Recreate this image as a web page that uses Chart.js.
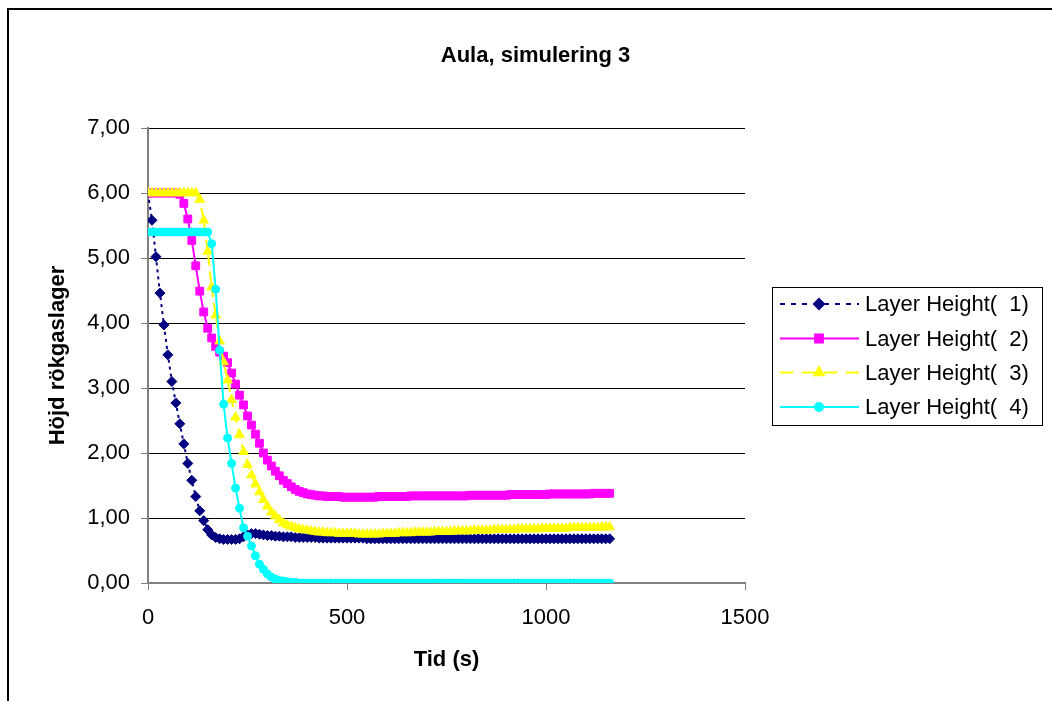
<!DOCTYPE html>
<html>
<head>
<meta charset="utf-8">
<script src="https://cdn.jsdelivr.net/npm/chart.js@4.4.1/dist/chart.umd.min.js"></script>
<style>
  body { margin: 0; background: #fff; }
  #wrap { position: relative; width: 1052px; height: 701px; overflow: hidden; }
  #frame { position: absolute; left: 7px; top: 8px; width: 1100px; height: 800px;
           border-top: 2px solid #000; border-left: 2px solid #000; }
  canvas { position: absolute; left: 0; top: 0; }
</style>
</head>
<body>
<div id="wrap">
  <div id="frame"></div>
  <canvas id="grafik" width="1052" height="701"></canvas>
</div>
<script>
// Tid (s), ett värde var 10:e sekund
const tider = [
  0, 10, 20, 30, 40, 50, 60, 70, 80, 90,
  100, 110, 120, 130, 140, 150, 160, 170, 180, 190,
  200, 210, 220, 230, 240, 250, 260, 270, 280, 290,
  300, 310, 320, 330, 340, 350, 360, 370, 380, 390,
  400, 410, 420, 430, 440, 450, 460, 470, 480, 490,
  500, 510, 520, 530, 540, 550, 560, 570, 580, 590,
  600, 610, 620, 630, 640, 650, 660, 670, 680, 690,
  700, 710, 720, 730, 740, 750, 760, 770, 780, 790,
  800, 810, 820, 830, 840, 850, 860, 870, 880, 890,
  900, 910, 920, 930, 940, 950, 960, 970, 980, 990,
  1000, 1010, 1020, 1030, 1040, 1050, 1060, 1070, 1080, 1090,
  1100, 1110, 1120, 1130, 1140, 1150, 1160
];

// Layer Height( 1)
const lager1 = [
  6.00, 5.58, 5.02, 4.46, 3.97, 3.51, 3.10, 2.77, 2.45, 2.14,
  1.84, 1.58, 1.33, 1.11, 0.96, 0.82, 0.74, 0.70, 0.68, 0.67,
  0.67, 0.67, 0.67, 0.68, 0.71, 0.74, 0.76, 0.76, 0.75, 0.74,
  0.73, 0.73, 0.72, 0.72, 0.71, 0.71, 0.71, 0.70, 0.70, 0.70,
  0.70, 0.70, 0.70, 0.69, 0.69, 0.69, 0.69, 0.69, 0.69, 0.69,
  0.69, 0.69, 0.69, 0.69, 0.69, 0.68, 0.68, 0.68, 0.68, 0.68,
  0.68, 0.68, 0.68, 0.68, 0.68, 0.68, 0.68, 0.68, 0.68, 0.68,
  0.68, 0.68, 0.68, 0.68, 0.68, 0.68, 0.68, 0.68, 0.68, 0.68,
  0.68, 0.68, 0.68, 0.68, 0.68, 0.68, 0.68, 0.68, 0.68, 0.68,
  0.68, 0.68, 0.68, 0.68, 0.68, 0.68, 0.68, 0.68, 0.68, 0.68,
  0.68, 0.68, 0.68, 0.68, 0.68, 0.68, 0.68, 0.68, 0.68, 0.68,
  0.68, 0.68, 0.68, 0.68, 0.68, 0.68, 0.68
];

// Layer Height( 2)
const lager2 = [
  6.00, 6.00, 6.00, 6.00, 6.00, 6.00, 6.00, 6.00, 5.98, 5.84,
  5.60, 5.27, 4.88, 4.49, 4.17, 3.92, 3.77, 3.64, 3.55, 3.49,
  3.39, 3.23, 3.06, 2.89, 2.74, 2.57, 2.43, 2.29, 2.15, 2.00,
  1.89, 1.80, 1.72, 1.65, 1.58, 1.53, 1.48, 1.44, 1.41, 1.39,
  1.37, 1.36, 1.35, 1.34, 1.34, 1.33, 1.33, 1.33, 1.33, 1.32,
  1.32, 1.32, 1.32, 1.32, 1.32, 1.32, 1.32, 1.32, 1.33, 1.33,
  1.33, 1.33, 1.33, 1.33, 1.33, 1.33, 1.34, 1.34, 1.34, 1.34,
  1.34, 1.34, 1.34, 1.34, 1.34, 1.34, 1.34, 1.34, 1.34, 1.34,
  1.34, 1.35, 1.35, 1.35, 1.35, 1.35, 1.35, 1.35, 1.35, 1.35,
  1.35, 1.36, 1.36, 1.36, 1.36, 1.36, 1.36, 1.36, 1.36, 1.36,
  1.36, 1.37, 1.37, 1.37, 1.37, 1.37, 1.37, 1.37, 1.37, 1.37,
  1.37, 1.37, 1.38, 1.38, 1.38, 1.38, 1.38
];

// Layer Height( 3)
const lager3 = [
  6.00, 6.00, 6.00, 6.00, 6.00, 6.00, 6.00, 6.00, 6.00, 6.00,
  6.00, 6.00, 6.00, 5.90, 5.58, 5.10, 4.55, 4.12, 3.72, 3.40,
  3.12, 2.82, 2.55, 2.28, 2.02, 1.82, 1.66, 1.52, 1.40, 1.28,
  1.18, 1.09, 1.03, 0.97, 0.92, 0.89, 0.87, 0.85, 0.83, 0.82,
  0.81, 0.80, 0.79, 0.78, 0.78, 0.77, 0.77, 0.77, 0.76, 0.76,
  0.76, 0.76, 0.76, 0.75, 0.75, 0.75, 0.75, 0.75, 0.75, 0.76,
  0.76, 0.76, 0.76, 0.77, 0.77, 0.77, 0.77, 0.78, 0.78, 0.78,
  0.78, 0.78, 0.79, 0.79, 0.79, 0.79, 0.79, 0.80, 0.80, 0.80,
  0.80, 0.80, 0.81, 0.81, 0.81, 0.81, 0.81, 0.82, 0.82, 0.82,
  0.82, 0.82, 0.82, 0.83, 0.83, 0.83, 0.83, 0.83, 0.83, 0.84,
  0.84, 0.84, 0.84, 0.84, 0.84, 0.84, 0.85, 0.85, 0.85, 0.85,
  0.85, 0.85, 0.85, 0.85, 0.86, 0.86, 0.86
];

// Layer Height( 4)
const lager4 = [
  5.40, 5.40, 5.40, 5.40, 5.40, 5.40, 5.40, 5.40, 5.40, 5.40,
  5.40, 5.40, 5.40, 5.40, 5.40, 5.40, 5.22, 4.52, 3.58, 2.75,
  2.23, 1.84, 1.46, 1.15, 0.85, 0.72, 0.57, 0.42, 0.29, 0.21,
  0.14, 0.09, 0.06, 0.04, 0.03, 0.02, 0.01, 0.01, 0.00, 0.00,
  0.00, 0.00, 0.00, 0.00, 0.00, 0.00, 0.00, 0.00, 0.00, 0.00,
  0.00, 0.00, 0.00, 0.00, 0.00, 0.00, 0.00, 0.00, 0.00, 0.00,
  0.00, 0.00, 0.00, 0.00, 0.00, 0.00, 0.00, 0.00, 0.00, 0.00,
  0.00, 0.00, 0.00, 0.00, 0.00, 0.00, 0.00, 0.00, 0.00, 0.00,
  0.00, 0.00, 0.00, 0.00, 0.00, 0.00, 0.00, 0.00, 0.00, 0.00,
  0.00, 0.00, 0.00, 0.00, 0.00, 0.00, 0.00, 0.00, 0.00, 0.00,
  0.00, 0.00, 0.00, 0.00, 0.00, 0.00, 0.00, 0.00, 0.00, 0.00,
  0.00, 0.00, 0.00, 0.00, 0.00, 0.00, 0.00
];

const serieNamn = ['Layer Height(  1)', 'Layer Height(  2)', 'Layer Height(  3)', 'Layer Height(  4)'];
const yEtiketter = ['0,00', '1,00', '2,00', '3,00', '4,00', '5,00', '6,00', '7,00'];
const xEtiketter = ['0', '500', '1000', '1500'];

const FONT = "'Liberation Sans', Arial, sans-serif";
Chart.defaults.font.family = FONT;
Chart.defaults.color = '#000';

function punkter(serie) {
    return tider.map((t, i) => ({ x: t, y: serie[i] }));
}

// Titel och förklaring ritas själva, som i Excel
const excelPlugin = {
    id: 'excelPlugin',
    afterDraw(chart) {
        const ctx = chart.ctx;
        ctx.save();
        ctx.fillStyle = '#000';
        ctx.font = 'bold 22px ' + FONT;
        ctx.textAlign = 'center';
        ctx.textBaseline = 'alphabetic';
        ctx.fillText('Aula, simulering 3', 535.5, 61.5);

        // förklaringsruta
        ctx.strokeStyle = '#000';
        ctx.lineWidth = 1;
        ctx.strokeRect(772.5, 287.5, 270, 138);
        const rader = [304, 338.5, 372.5, 407];
        chart.data.datasets.forEach((ds, i) => {
            const y = rader[i];
            ctx.strokeStyle = ds.borderColor;
            ctx.lineWidth = ds.borderWidth;
            ctx.setLineDash(ds.legendDash || []);
            ctx.beginPath();
            ctx.moveTo(780, y);
            ctx.lineTo(859, y);
            ctx.stroke();
            ctx.setLineDash([]);
            ctx.fillStyle = ds.pointBackgroundColor;
            ctx.strokeStyle = ds.pointBorderColor;
            Chart.helpers.drawPoint(ctx, {
                pointStyle: ds.pointStyle, radius: ds.pointRadius,
                rotation: 0, borderWidth: 1
            }, 819, y);
            ctx.fillStyle = '#000';
            ctx.font = '22px ' + FONT;
            ctx.textAlign = 'left';
            ctx.textBaseline = 'middle';
            ctx.fillText(serieNamn[i], 865, y + 1);
        });
        ctx.restore();
    }
};

const ctxGrafik = document.getElementById('grafik').getContext('2d');
const grafik = new Chart(ctxGrafik, {
    type: 'scatter',
    data: {
        datasets: [{
            label: serieNamn[0],
            data: punkter(lager1),
            showLine: true,
            borderColor: '#000080',
            borderWidth: 2,
            borderDash: [3, 4],
            legendDash: [5, 6],
            pointStyle: 'rectRot',
            pointRadius: 5,
            pointBackgroundColor: '#000080',
            pointBorderColor: '#000080',
            pointBorderWidth: 1,
            order: 3
        }, {
            label: serieNamn[1],
            data: punkter(lager2),
            showLine: true,
            borderColor: '#ff00ff',
            borderWidth: 2,
            pointStyle: 'rect',
            pointRadius: 5.5,
            pointBackgroundColor: '#ff00ff',
            pointBorderColor: '#ff00ff',
            pointBorderWidth: 1,
            order: 2
        }, {
            label: serieNamn[2],
            data: punkter(lager3),
            showLine: true,
            borderColor: '#ffff00',
            borderWidth: 2,
            borderDash: [10, 6],
            legendDash: [13, 9],
            pointStyle: 'triangle',
            pointRadius: 5.5,
            pointBackgroundColor: '#ffff00',
            pointBorderColor: '#ffff00',
            pointBorderWidth: 1,
            order: 1
        }, {
            label: serieNamn[3],
            data: punkter(lager4),
            showLine: true,
            borderColor: '#00ffff',
            borderWidth: 2,
            pointStyle: 'circle',
            pointRadius: 4,
            pointBackgroundColor: '#00ffff',
            pointBorderColor: '#00ffff',
            pointBorderWidth: 1,
            order: 0
        }]
    },
    options: {
        responsive: false,
        animation: false,
        events: [],
        layout: { padding: { top: 128, right: 307, bottom: 0, left: 0 } },
        plugins: {
            legend: { display: false },
            title: { display: false },
            tooltip: { enabled: false }
        },
        scales: {
            x: {
                type: 'linear',
                min: 0,
                max: 1500,
                afterFit: (axis) => { axis.height = 118; },
                afterBuildTicks: (axis) => {
                    axis.ticks = xEtiketter.map(v => ({ value: Number(v) }));
                },
                ticks: {
                    autoSkip: false,
                    maxRotation: 0,
                    padding: 15,
                    font: { size: 22 },
                    callback: (v, i) => xEtiketter[i]
                },
                grid: {
                    drawOnChartArea: false,
                    tickLength: 7,
                    tickColor: '#808080',
                    tickWidth: 1
                },
                border: { color: '#808080', width: 2 },
                title: {
                    display: true,
                    text: 'Tid (s)',
                    font: { size: 22, weight: 'bold' },
                    padding: { top: 0, bottom: 28 }
                }
            },
            y: {
                min: 0,
                max: 7,
                afterFit: (axis) => { axis.width = 148; },
                ticks: {
                    stepSize: 1,
                    padding: 11,
                    font: { size: 22 },
                    callback: (v, i) => yEtiketter[i]
                },
                grid: {
                    color: (c) => (c.tick && c.tick.value === 0) ? '#808080' : '#000',
                    lineWidth: 1,
                    tickLength: 7,
                    tickColor: '#808080'
                },
                border: { color: '#808080', width: 2 },
                title: {
                    display: true,
                    text: 'Höjd rökgaslager',
                    font: { size: 22, weight: 'bold' },
                    padding: { top: 45, bottom: 0 }
                }
            }
        }
    },
    plugins: [excelPlugin]
});
</script>
</body>
</html>
